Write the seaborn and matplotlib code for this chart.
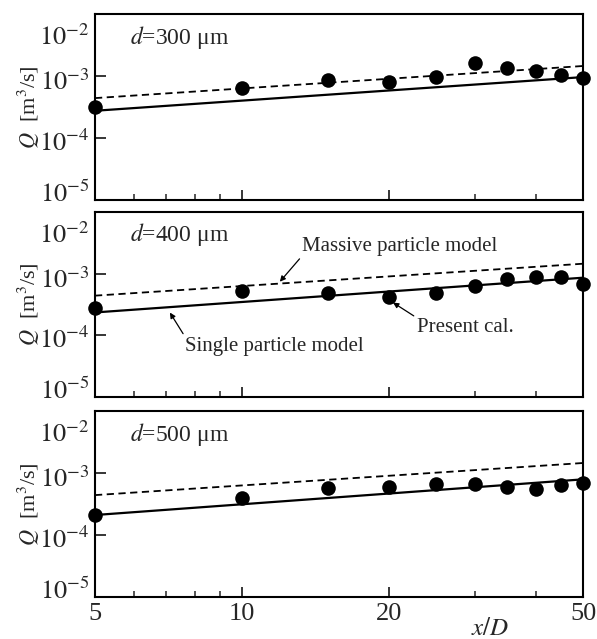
import numpy as np
import pandas as pd
import seaborn as sns
import matplotlib.pyplot as plt
from matplotlib.ticker import FixedLocator, NullLocator, FixedFormatter
from matplotlib.transforms import ScaledTranslation

# data
x_pts = [5, 10, 15, 20, 25, 30, 35, 40, 45, 50]
q_300 = [3.2e-4, 6.4e-4, 8.7e-4, 7.9e-4, 9.5e-4, 1.62e-3, 1.34e-3, 1.2e-3, 1.04e-3, 9.3e-4]
q_400 = [2.8e-4, 5.3e-4, 4.9e-4, 4.2e-4, 4.9e-4, 6.4e-4, 8.3e-4, 8.9e-4, 8.9e-4, 6.9e-4]
q_500 = [2.1e-4, 4.0e-4, 5.7e-4, 5.9e-4, 6.6e-4, 6.6e-4, 5.9e-4, 5.5e-4, 6.4e-4, 6.9e-4]

x_line = [5, 50]
massive = [4.4e-4, 1.45e-3]
single_300 = [2.75e-4, 9.6e-4]
single_400 = [2.35e-4, 8.6e-4]
single_500 = [2.1e-4, 7.9e-4]

diameters = [300, 400, 500]
points = [q_300, q_400, q_500]
singles = [single_300, single_400, single_500]

y_ticks = [1e-5, 1e-4, 1e-3, 1e-2]
y_labels = [r'$10^{-5}$', r'$10^{-4}$', r'$10^{-3}$', r'$10^{-2}$']
x_ticks = [5, 10, 20, 50]
x_labels = ['5', '10', '20', '50']

sns.set_style('ticks')
plt.rcParams['font.family'] = ['Liberation Serif', 'DejaVu Serif']
plt.rcParams['mathtext.fontset'] = 'stix'
plt.rcParams['xtick.direction'] = 'in'
plt.rcParams['ytick.direction'] = 'in'

fig = plt.figure(figsize=(5.97, 6.39), dpi=100)
W, H = 597, 639
left, right = 95, 583
panels = [(14, 200), (212, 397), (411, 597)]
# vertical nudge of y tick labels (pixels, + is up), as in the reference
label_shift = [6, -5, -6, -23]

for i, (top, bot) in enumerate(panels):
    ax = fig.add_axes([left / W, (H - bot) / H, (right - left) / W, (bot - top) / H])
    ax.set_xscale('log')
    ax.set_yscale('log')

    sns.lineplot(x=x_line, y=massive, ax=ax, color='k', lw=1.3, linestyle=(0, (4, 2.5)))
    sns.lineplot(x=x_line, y=singles[i], ax=ax, color='k', lw=1.6)
    df = pd.DataFrame({'x': x_pts, 'q': points[i]})
    sns.scatterplot(data=df, x='x', y='q', ax=ax, color='k', s=110,
                    edgecolor='k', linewidth=0, clip_on=False, zorder=5)

    ax.set_xlim(5, 50)
    ax.set_ylim(1e-5, 1e-2)

    ax.xaxis.set_major_locator(FixedLocator(x_ticks))
    ax.xaxis.set_minor_locator(FixedLocator([6, 7, 8, 9, 30, 40]))
    ax.yaxis.set_major_locator(FixedLocator(y_ticks))
    ax.yaxis.set_minor_locator(NullLocator())
    ax.yaxis.set_major_formatter(FixedFormatter(y_labels))
    if i == 2:
        ax.xaxis.set_major_formatter(FixedFormatter(x_labels))
    else:
        ax.xaxis.set_major_formatter(FixedFormatter([''] * 4))
    ax.xaxis.set_minor_formatter(FixedFormatter([''] * 6))

    ax.tick_params(axis='both', which='major', length=8, width=1.3, labelsize=19, pad=4)
    ax.tick_params(axis='x', which='major', length=7.5)
    ax.tick_params(axis='x', which='minor', length=4, width=1.1)
    for sp in ax.spines.values():
        sp.set_linewidth(1.5)
        sp.set_color('k')

    for lab, dy in zip(ax.get_yticklabels(), label_shift):
        lab.set_va('center')
        lab.set_transform(lab.get_transform() + ScaledTranslation(0, dy / 100, fig.dpi_scale_trans))

    ax.set_xlabel('')
    ax.set_ylabel(r'$Q$  [m$^3$/s]', fontsize=16)
    ax.yaxis.set_label_coords(-0.109, 0.5)

    ax.text(0.072, 0.876, r'$d$=%d μm' % diameters[i], transform=ax.transAxes,
            fontsize=17, va='center', ha='left')

    if i == 1:
        arrow = dict(arrowstyle='-|>', color='k', lw=0.9, shrinkA=0, shrinkB=0,
                     mutation_scale=8)
        ax.annotate('Massive particle model', xy=(11.96, 7.4e-4), xytext=(13.3, 2.8e-3),
                    fontsize=15, ha='left', va='center',
                    arrowprops=dict(arrow, relpos=(0, 0)))
        ax.annotate('Single particle model', xy=(7.12, 2.34e-4), xytext=(7.65, 6.6e-5),
                    fontsize=15, ha='left', va='center',
                    arrowprops=dict(arrow, relpos=(0, 1)))
        ax.annotate('Present cal.', xy=(20.4, 3.4e-4), xytext=(22.85, 1.34e-4),
                    fontsize=15, ha='left', va='center',
                    arrowprops=dict(arrow, relpos=(0, 1)))

fig.text(490 / W, (H - 618) / H, r'$x/D$', fontsize=18, ha='center', va='top')

fig.savefig('out.png', dpi=100)
